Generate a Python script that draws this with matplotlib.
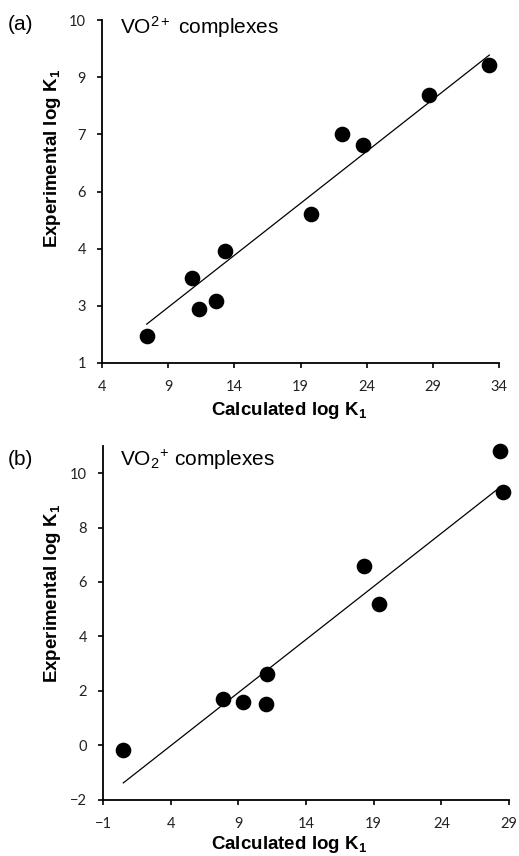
import matplotlib
matplotlib.use("Agg")
import matplotlib.pyplot as plt

plt.rcParams['mathtext.fontset'] = 'custom'
plt.rcParams['mathtext.rm'] = 'Liberation Sans'
plt.rcParams['mathtext.it'] = 'Liberation Sans:italic'
plt.rcParams['mathtext.bf'] = 'Liberation Sans:bold'

# ---- Panel (a): VO2+ complexes ----
a_calc = [7.38, 10.83, 11.31, 12.60, 13.30, 19.76, 22.10, 23.69, 28.73, 33.27]
a_exp = [1.70, 3.22, 2.42, 2.62, 3.93, 4.91, 7.01, 6.71, 8.02, 8.82]
a_trend_x = [7.38, 33.27]
a_trend_y = [2.02, 9.08]
a_xticks = [4, 9, 14, 19, 24, 29, 34]
a_yticks = [1, 2.5, 4, 5.5, 7, 8.5, 10]
a_yticklabels = ["1", "3", "4", "6", "7", "9", "10"]

# ---- Panel (b): VO2+ (dioxo) complexes ----
b_calc = [0.50, 7.87, 9.37, 11.02, 11.14, 18.31, 19.39, 28.33, 28.58]
b_exp = [-0.18, 1.70, 1.60, 1.51, 2.61, 6.59, 5.19, 10.82, 9.30]
b_trend_x = [0.50, 28.33]
b_trend_y = [-1.39, 9.48]
b_xticks = [-1, 4, 9, 14, 19, 24, 29]
b_yticks = [-2, 0, 2, 4, 6, 8, 10]

W, H = 519, 856
fig = plt.figure(figsize=(W / 100, H / 100), dpi=100)

def px_axes(l, t, r, b):
    return fig.add_axes([l / W, 1 - b / H, (r - l) / W, (b - t) / H])

label_font = dict(family='Liberation Sans', weight='bold', size=13.5)

def style(ax):
    for s in ['top', 'right']:
        ax.spines[s].set_visible(False)
    for s in ['left', 'bottom']:
        ax.spines[s].set_linewidth(1.3)
    ax.tick_params(direction='out', length=3.5, width=1.2, color='black')
    ax.tick_params(axis='x', pad=9)
    ax.tick_params(axis='y', pad=8)
    for lab in ax.get_xticklabels() + ax.get_yticklabels():
        lab.set_fontfamily('Lato')
        lab.set_fontsize(10.5)
        lab.set_color('#222222')

# Panel (a)
ax1 = px_axes(102, 20, 499, 363)
ax1.plot(a_trend_x, a_trend_y, color='black', lw=0.9)
ax1.scatter(a_calc, a_exp, s=105, color='black', zorder=3)
ax1.set_xlim(4, 34)
ax1.set_ylim(1, 10)
ax1.set_xticks(a_xticks)
ax1.set_yticks(a_yticks)
ax1.set_yticklabels(a_yticklabels)
style(ax1)
ax1.set_xlabel('Calculated log K$_\\mathbf{1}$', **label_font)
ax1.set_ylabel('Experimental log K$_\\mathbf{1}$', **label_font)
ax1.xaxis.set_label_coords(0.471, -0.108)
ax1.yaxis.set_label_coords(-0.098, 0.595)

# Panel (b)
ax2 = px_axes(103, 446, 509, 799.5)
ax2.plot(b_trend_x, b_trend_y, color='black', lw=0.9)
ax2.scatter(b_calc, b_exp, s=105, color='black', zorder=3, clip_on=False)
ax2.set_xlim(-1, 29)
ax2.set_ylim(-2, 11)
ax2.set_xticks(b_xticks)
ax2.set_yticks(b_yticks)
style(ax2)
ax2.set_xlabel('Calculated log K$_\\mathbf{1}$', **label_font)
ax2.set_ylabel('Experimental log K$_\\mathbf{1}$', **label_font)
ax2.xaxis.set_label_coords(0.458, -0.098)
ax2.yaxis.set_label_coords(-0.0985, 0.583)

# Panel titles and letters
fig.text(120 / W, 1 - 27 / H, 'VO$^{2+}$ complexes', family='Liberation Sans',
         size=15, va='center', ha='left')
fig.text(8 / W, 1 - 25 / H, '(a)', family='Liberation Sans', size=15,
         va='center', ha='left')
fig.text(120 / W, 1 - 460 / H, 'VO$_2$$^{+}$ complexes', family='Liberation Sans',
         size=15, va='center', ha='left')
fig.text(8 / W, 1 - 459 / H, '(b)', family='Liberation Sans', size=15,
         va='center', ha='left')

fig.savefig('out.png', dpi=100)
